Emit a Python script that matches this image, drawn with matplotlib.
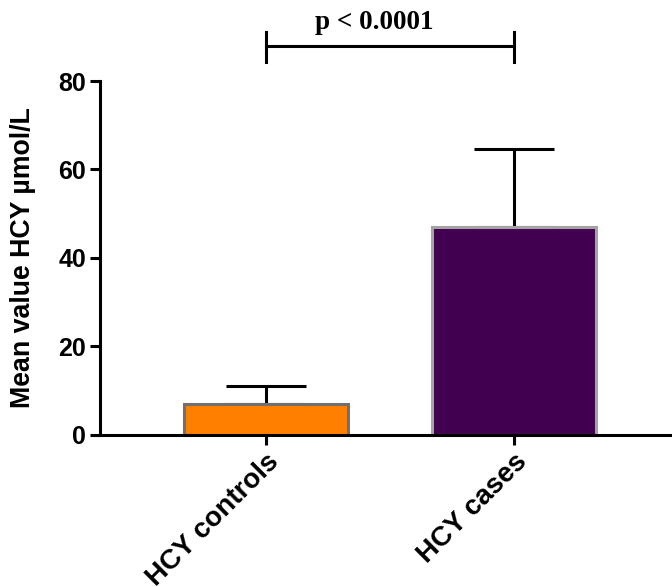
import numpy as np
import matplotlib.pyplot as plt

groups = ['HCY controls', 'HCY cases']
means = [7.0, 47.0]
sd_upper = [4.0, 17.6]
bar_colors = ['#FF8000', '#420050']
edge_colors = ['#707070', '#A3A3A3']

p_text = 'p < 0.0001'
bracket_y = 87.8
bracket_tip = [84.4, 91.0]

plt.rcParams['font.family'] = ['Liberation Sans', 'DejaVu Sans']
plt.rcParams['font.weight'] = 'bold'

fig = plt.figure(figsize=(6.72, 5.87), dpi=100)
ax = fig.add_axes([0.149, 0.259, 0.851, 0.603])

x = np.arange(len(groups))
ax.bar(x, means, width=0.66, color=bar_colors, edgecolor=edge_colors,
       linewidth=2.2, zorder=2)
ax.errorbar(x, means, yerr=[np.zeros(len(groups)), sd_upper], fmt='none',
            ecolor='black', elinewidth=2.2, capsize=29, capthick=2.2, zorder=1)

ax.set_xlim(-0.669, 1.637)
ax.set_ylim(0, 80)
ax.set_yticks([0, 20, 40, 60, 80])
ax.set_xticks(x)
ax.set_xticklabels(groups, rotation=45, ha='right', rotation_mode='anchor',
                   fontsize=20, fontweight='bold')
for lab in ax.get_yticklabels():
    lab.set_fontsize(18)
    lab.set_fontweight('bold')
ax.set_ylabel('Mean value HCY µmol/L', fontsize=19.3, fontweight='bold', labelpad=16)

for s in ['top', 'right']:
    ax.spines[s].set_visible(False)
for s in ['left', 'bottom']:
    ax.spines[s].set_linewidth(2.2)
ax.tick_params(width=2.2, length=7, pad=3)

# significance bracket
ax.plot([0, 1], [bracket_y, bracket_y], color='black', lw=2.2, clip_on=False)
for xi in [0, 1]:
    ax.plot([xi, xi], bracket_tip, color='black', lw=2.2, clip_on=False)
ax.text(0.435, bracket_y + 2.6, p_text, ha='center', va='bottom', fontsize=19.5,
        fontweight='bold', family=['Liberation Serif', 'DejaVu Serif'])

fig.savefig('out.png', dpi=100)
